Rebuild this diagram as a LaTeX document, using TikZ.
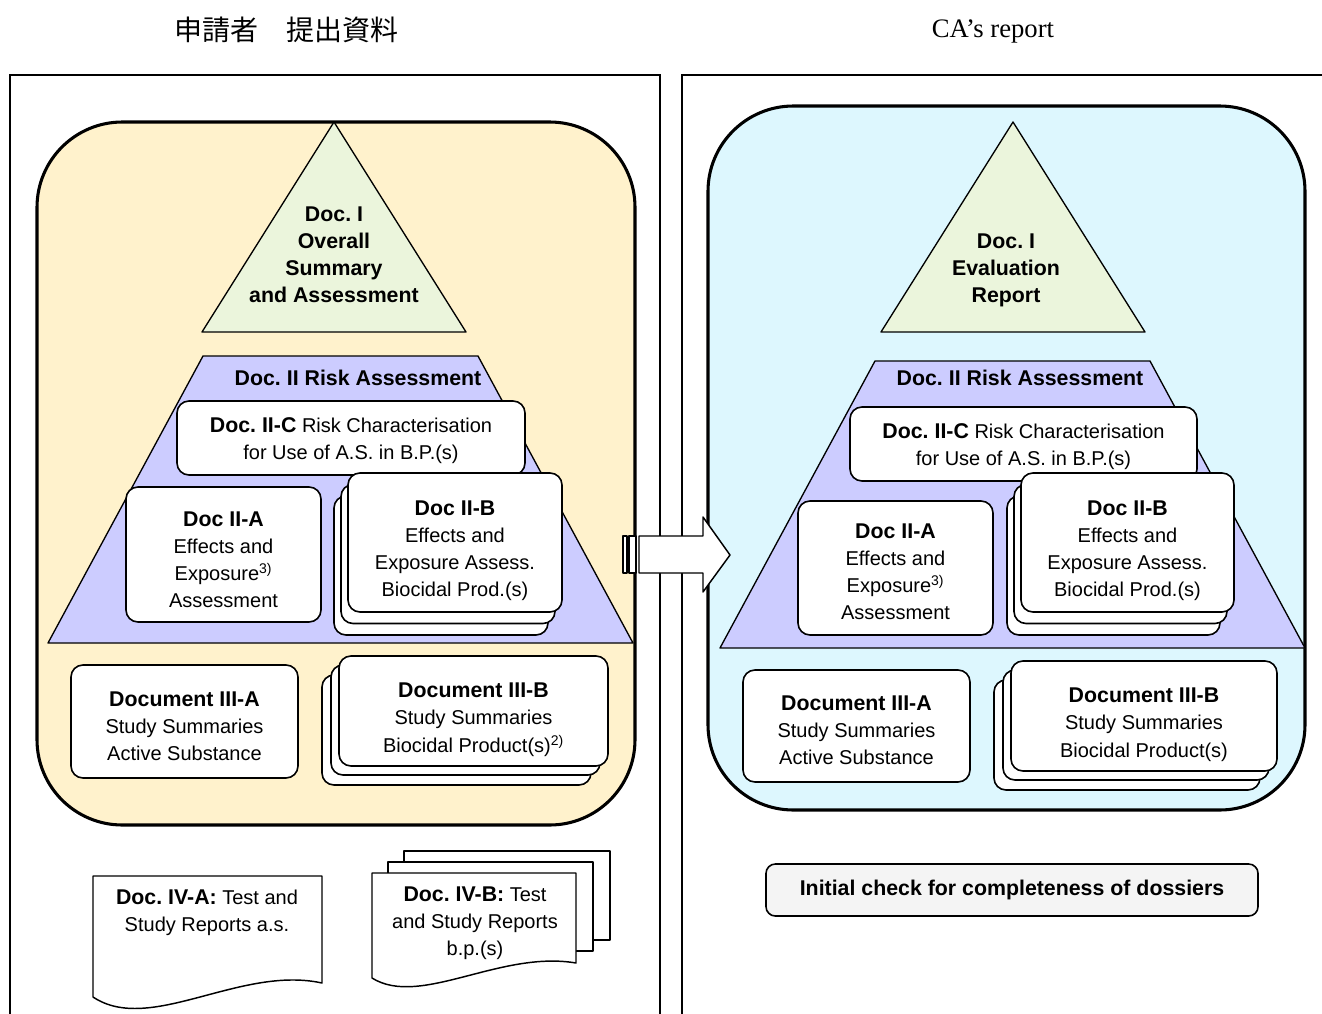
\documentclass[tikz,border=0pt]{standalone}
\usepackage{fontspec}
\setmainfont{Liberation Sans}
\newfontfamily\serifhead{Liberation Serif}
\newfontfamily\cjkhead{Noto Sans CJK JP}
\usetikzlibrary{calc}
\frenchspacing
\definecolor{PY}{HTML}{FFF2CC}
\definecolor{PC}{HTML}{DDF7FE}
\definecolor{PG}{HTML}{EBF5DC}
\definecolor{PV}{HTML}{CCCCFF}
\definecolor{PK}{HTML}{F4F4F4}
\newcommand\hd[1]{{\fontsize{16}{20.3}\selectfont\bfseries #1}}
\tikzset{
  docbox/.style={draw, fill=white, line width=1.2pt, rounded corners=9pt, inner sep=0pt},
  boxtext/.style={align=center, inner sep=0pt, font=\fontsize{15}{20.3}\selectfont},
  bigpanel/.style={draw, line width=2.3pt, rounded corners=64pt},
  layer/.style={draw, line width=1pt, line join=round},
  layertext/.style={align=center, font=\fontsize{16}{20.3}\selectfont\bfseries},
  paper/.style={draw, fill=white, line width=1.1pt, line join=round}
}

\begin{document}
\begin{tikzpicture}[x=0.75pt, y=-0.75pt]

    \useasboundingbox (0,0) rectangle (1322,1014);
    \clip (0,0) rectangle (1322,1014);

    %% headers
    \node[font=\cjkhead\fontsize{21}{21}\selectfont] (hdrL) at (286,30) {申請者　提出資料};
    \node[font=\serifhead\fontsize{20}{20}\selectfont] (hdrR) at (993,31) {CA’s report};

    %% outer frames
    \draw[line width=1.1pt] (10,75) rectangle (660,1030);
    \draw[line width=1.1pt] (682,75) rectangle (1340,1030);

    %% ---------------- applicant side ----------------
    \draw[bigpanel, fill=PY] (37,122) rectangle (635,825);

    %% Doc. I triangle
    \draw[layer, fill=PG] (334,122) -- (466,332) -- (202,332) -- cycle;
    \node[layertext] (lDocI) at (334,255)
      {Doc. I\\Overall\\Summary\\and Assessment};

    %% Doc. II trapezoid
    \draw[layer, fill=PV] (203,356) -- (478,356) -- (633,643) -- (48,643) -- cycle;
    \node[layertext] (lRisk) at (358,378) {Doc. II Risk Assessment};

    \node[docbox, minimum width=261pt, minimum height=55.5pt] (lIIC) at (351,438) {};
    \node[boxtext] (lIICt) at ([yshift=-2pt]lIIC.center)
      {\hd{Doc. II-C} Risk Characterisation\\for Use of A.S. in B.P.(s)};
    \node[docbox, minimum width=146.25pt, minimum height=101.25pt] (lIIA) at (223.5,554.5) {};
    \node[boxtext] (lIIAt) at ([yshift=-4pt]lIIA.center)
      {\hd{Doc II-A}\\Effects and\\Exposure\textsuperscript{3)}\\Assessment};
    \foreach \k in {2,1}
      \node[docbox, minimum width=160.5pt, minimum height=104.25pt] (lIIB\k)
        at ($(455,542.5)+(-7*\k,11.5*\k)$) {};
    \node[docbox, minimum width=160.5pt, minimum height=104.25pt] (lIIB) at (455,542.5) {};
    \node[boxtext] (lIIBt) at ([yshift=-6pt]lIIB.center)
      {\hd{Doc II-B}\\Effects and\\Exposure Assess.\\Biocidal Prod.(s)};

    %% Doc. III
    \node[docbox, minimum width=170.25pt, minimum height=84.75pt] (lIIIA) at (184.5,721.5) {};
    \node[boxtext] (lIIIAt) at ([yshift=-3.5pt]lIIIA.center)
      {\hd{Document III-A}\\Study Summaries\\Active Substance};
    \foreach \dx/\dy [count=\k] in {-17/19,-8/9}
      \node[docbox, minimum width=201.75pt, minimum height=82.5pt] (lIIIB\k)
        at ($(473.5,711)+(\dx,\dy)$) {};
    \node[docbox, minimum width=201.75pt, minimum height=82.5pt] (lIIIB) at (473.5,711) {};
    \node[boxtext] (lIIIBt) at ([yshift=-6.5pt]lIIIB.center)
      {\hd{Document III-B}\\Study Summaries\\Biocidal Product(s)\textsuperscript{2)}};

    %% Doc. IV papers
    \draw[paper] (93,876) -- (322,876) -- (322,983)
      .. controls (240,965) and (150,1035) .. (93,997) -- cycle;
    \node[boxtext] (lIVA) at (207,913)
      {\hd{Doc. IV-A:} Test and\\Study Reports a.s.};
    \draw[paper] (404,851) rectangle (610,940);
    \draw[paper] (388,862) rectangle (593,951);
    \draw[paper] (372,873) -- (576,873) -- (576,963)
      .. controls (500,950) and (420,1008) .. (372,978) -- cycle;
    \node[boxtext] (lIVB) at (475,923)
      {\hd{Doc. IV-B:} Test\\and Study Reports\\b.p.(s)};

    %% ---------------- CA side ----------------
    \draw[bigpanel, fill=PC] (708,106) rectangle (1305,810);

    \draw[layer, fill=PG] (1013,122) -- (1145,332) -- (881,332) -- cycle;
    \node[layertext] (rDocI) at (1006,270) {Doc. I\\Evaluation\\Report};

    \draw[layer, fill=PV] (875,361) -- (1150,361) -- (1305,648) -- (720,648) -- cycle;
    \node[layertext] (rRisk) at (1020,378) {Doc. II Risk Assessment};

    \node[docbox, minimum width=260.25pt, minimum height=55.5pt] (rIIC) at (1023.5,444) {};
    \node[boxtext] (rIICt) at ([yshift=-2pt]rIIC.center)
      {\hd{Doc. II-C} Risk Characterisation\\for Use of A.S. in B.P.(s)};
    \node[docbox, minimum width=146.25pt, minimum height=100.5pt] (rIIA) at (895.5,568) {};
    \node[boxtext] (rIIAt) at ([yshift=-3pt]rIIA.center)
      {\hd{Doc II-A}\\Effects and\\Exposure\textsuperscript{3)}\\Assessment};
    \foreach \k in {2,1}
      \node[docbox, minimum width=159.75pt, minimum height=104.25pt] (rIIB\k)
        at ($(1127.5,542.5)+(-7*\k,11.5*\k)$) {};
    \node[docbox, minimum width=159.75pt, minimum height=104.25pt] (rIIB) at (1127.5,542.5) {};
    \node[boxtext] (rIIBt) at ([yshift=-6pt]rIIB.center)
      {\hd{Doc II-B}\\Effects and\\Exposure Assess.\\Biocidal Prod.(s)};

    \node[docbox, minimum width=170.25pt, minimum height=84pt] (rIIIA) at (856.5,726) {};
    \node[boxtext] (rIIIAt) at ([yshift=-3.5pt]rIIIA.center)
      {\hd{Document III-A}\\Study Summaries\\Active Substance};
    \foreach \dx/\dy [count=\k] in {-17/19,-8/9}
      \node[docbox, minimum width=199.5pt, minimum height=82.5pt] (rIIIB\k)
        at ($(1144,716)+(\dx,\dy)$) {};
    \node[docbox, minimum width=199.5pt, minimum height=82.5pt] (rIIIB) at (1144,716) {};
    \node[boxtext] (rIIIBt) at ([yshift=-6.5pt]rIIIB.center)
      {\hd{Document III-B}\\Study Summaries\\Biocidal Product(s)};

    %% completeness check
    \node[docbox, fill=PK, rounded corners=7pt, minimum width=369pt, minimum height=39pt,
          font=\fontsize{16}{20.3}\selectfont\bfseries] (rCheck) at (1012,890)
      {Initial check for completeness of dossiers};

    %% block arrow, on top of both panels
    \draw[paper] (623,536) rectangle (627,573);
    \draw[paper] (629,536) rectangle (636,573);
    \draw[paper] (639,536) -- (703,536) -- (703,517) -- (730,555)
      -- (703,592) -- (703,573) -- (639,573) -- cycle;

\end{tikzpicture}
\end{document}
